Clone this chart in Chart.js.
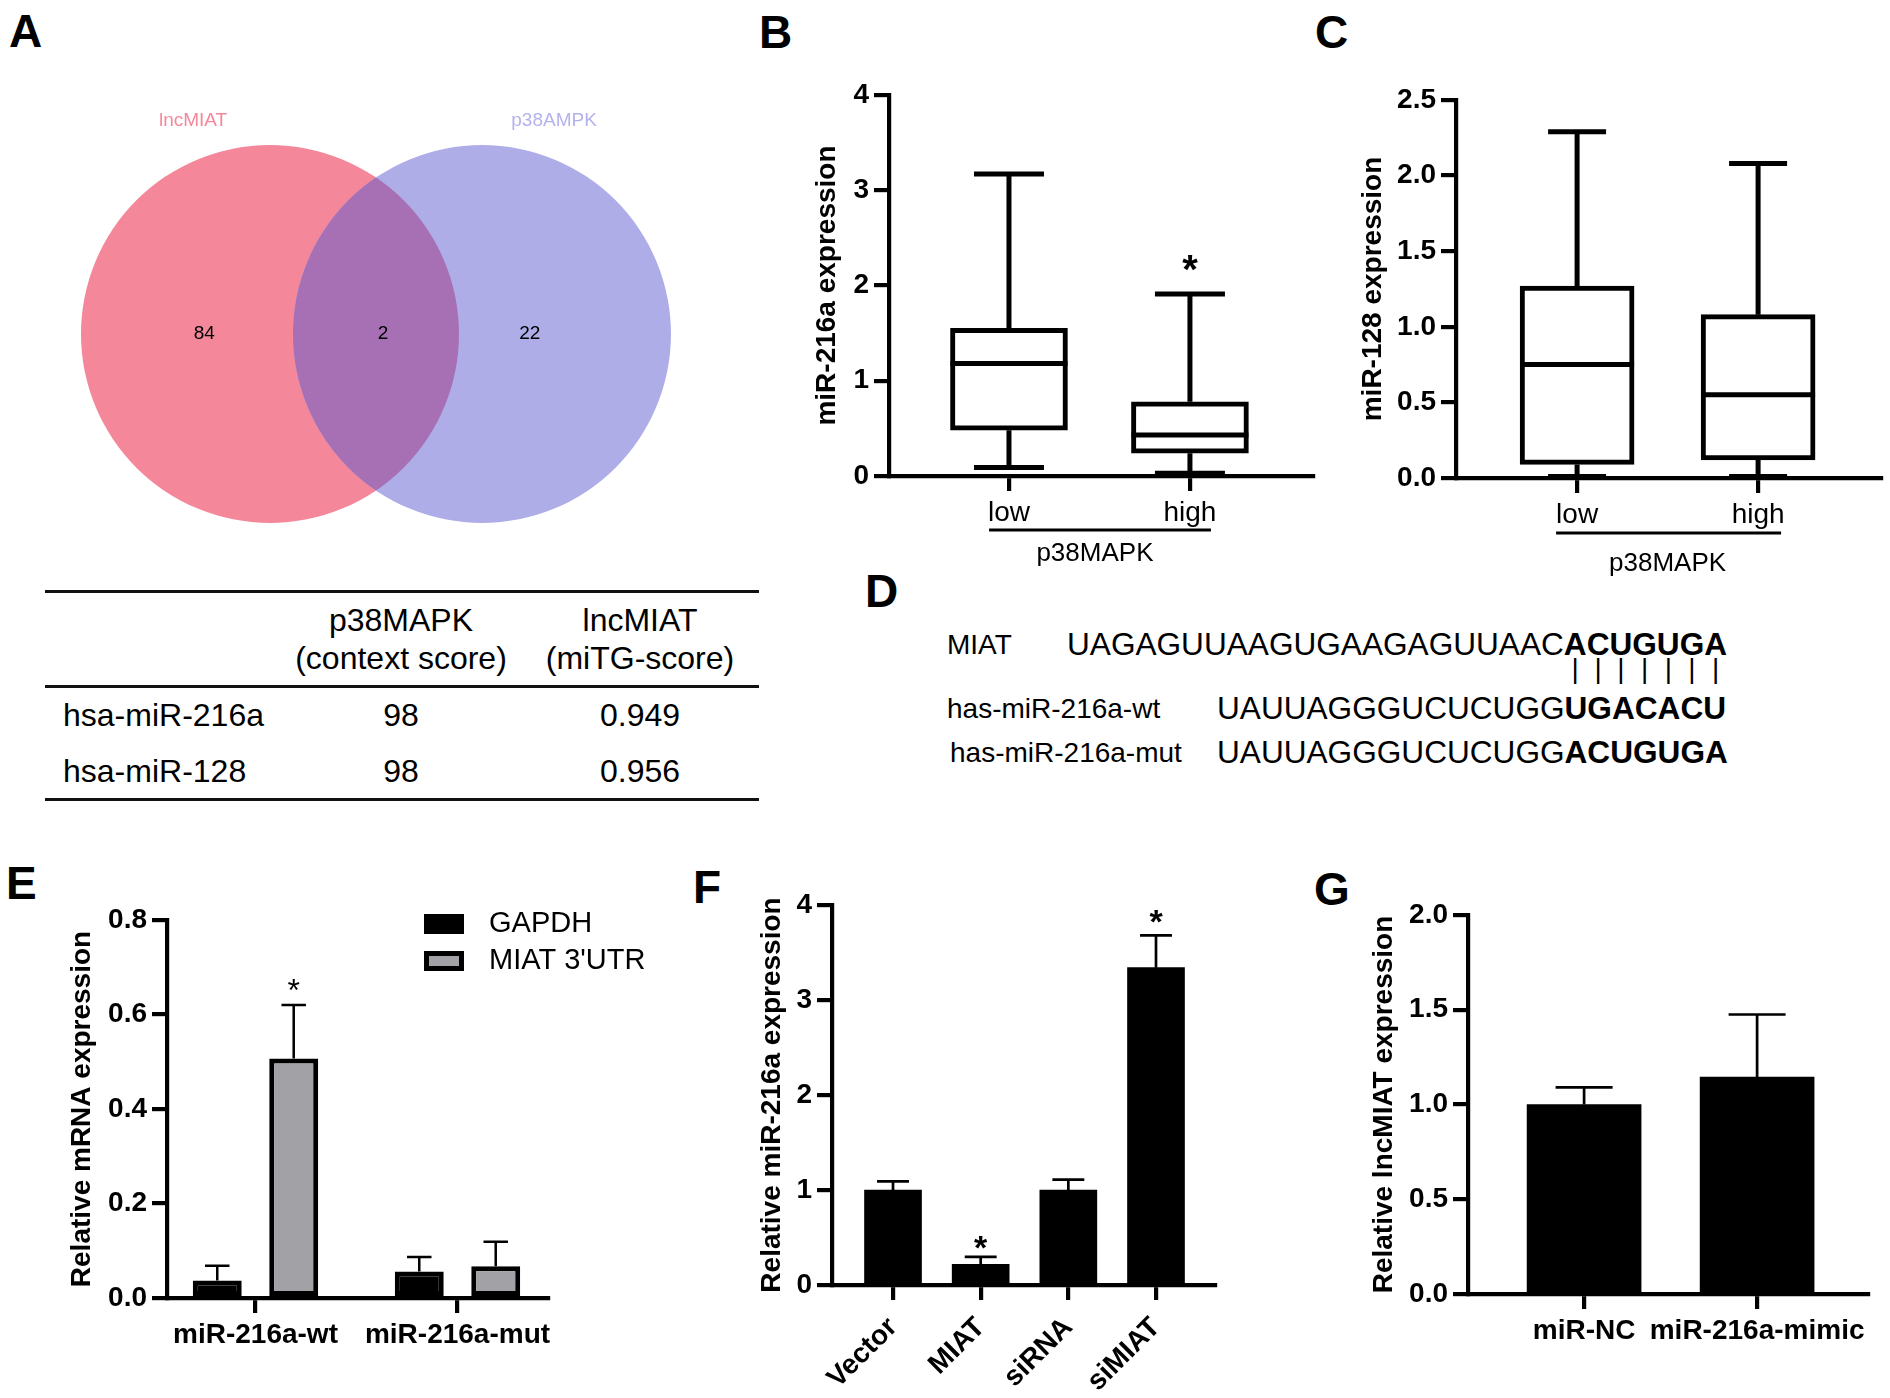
<!DOCTYPE html>
<html>
<head>
<meta charset="utf-8">
<script src="https://cdn.jsdelivr.net/npm/chart.js@4.4.1/dist/chart.umd.min.js"></script>
<style>
  html, body { margin: 0; padding: 0; background: #fff; }
  #page { position: relative; width: 1890px; height: 1398px; overflow: hidden;
          font-family: 'Liberation Sans', Arial, sans-serif; color: #000; }
  .abs { position: absolute; white-space: nowrap; }
  .letter { font-size: 46px; font-weight: bold; line-height: 46px; }
  .rule { position: absolute; height: 3px; background: #111; }
  .pair { position: absolute; left: 50%; top: 1px; transform: translateX(-50%);
          color: #000; font-weight: normal; font-size: 28px; }
  canvas { position: absolute; }
</style>
</head>
<body>
<div id="page">
  <div class="abs letter" style="left:9px;top:8px">A</div>
  <div class="abs letter" style="left:759px;top:9px">B</div>
  <div class="abs letter" style="left:1315px;top:9px">C</div>
  <div class="abs letter" style="left:865px;top:568px">D</div>
  <div class="abs letter" style="left:6px;top:860px">E</div>
  <div class="abs letter" style="left:693px;top:864px">F</div>
  <div class="abs letter" style="left:1314px;top:866px">G</div>
</div>
<script>
// ---------- data ----------
// A: venn + table
const vennSets = ['lncMIAT', 'p38AMPK'];
const vennCounts = [84, 2, 22];            // only lncMIAT, both, only p38AMPK
const tableHead1 = ['p38MAPK', '(context score)'];
const tableHead2 = ['lncMIAT', '(miTG-score)'];
const mirnaNames = ['hsa-miR-216a', 'hsa-miR-128'];
const contextScores = ['98', '98'];
const mitgScores = ['0.949', '0.956'];

// B: miR-216a by p38MAPK level
const levelGroups = ['low', 'high'];
const mir216aMin = [0.09, 0.03];
const mir216aQ1 = [0.48, 0.24];
const mir216aMedian = [1.18, 0.43];
const mir216aQ3 = [1.55, 0.78];
const mir216aMax = [3.17, 1.91];
const mir216aStars = [null, 2.27];

// C: miR-128 by p38MAPK level
const mir128Min = [0.01, 0.01];
const mir128Q1 = [0.09, 0.12];
const mir128Median = [0.75, 0.55];
const mir128Q3 = [1.27, 1.08];
const mir128Max = [2.29, 2.08];

// D: sequences
const seqLabels = ['MIAT', 'has-miR-216a-wt', 'has-miR-216a-mut'];
const seqPlain = ['UAGAGUUAAGUGAAGAGUUAAC', 'UAUUAGGGUCUCUGG', 'UAUUAGGGUCUCUGG'];
const seqSeed = ['ACUGUGA', 'UGACACU', 'ACUGUGA'];

// E: luciferase reporter
const reporterGroups = ['miR-216a-wt', 'miR-216a-mut'];
const gapdhMean = [0.037, 0.056];
const gapdhSd = [0.031, 0.031];
const utrMean = [0.507, 0.067];
const utrSd = [0.113, 0.052];
const utrStars = [0.667, null];

// F: miR-216a after MIAT over/under expression
const transfectGroups = ['Vector', 'MIAT', 'siRNA', 'siMIAT'];
const mir216aRel = [1.0, 0.217, 1.0, 3.34];
const mir216aRelSd = [0.09, 0.08, 0.11, 0.34];
const mir216aRelStars = [null, 0.48, null, 3.91];

// G: lncMIAT after mimic
const mimicGroups = ['miR-NC', 'miR-216a-mimic'];
const miatRel = [1.0, 1.145];
const miatRelSd = [0.09, 0.33];

// ---------- setup ----------
const FONT = "'Liberation Sans', Arial, sans-serif";
Chart.defaults.font.family = FONT;
Chart.defaults.color = '#000';
Chart.defaults.animation = false;
Chart.defaults.plugins.legend.display = false;
Chart.defaults.plugins.tooltip.enabled = false;

const page = document.getElementById('page');

function addCanvas(left, top, w, h) {
    const c = document.createElement('canvas');
    c.width = w; c.height = h;
    c.style.left = left + 'px'; c.style.top = top + 'px';
    c.style.width = w + 'px'; c.style.height = h + 'px';
    page.appendChild(c);
    return c.getContext('2d');
}

function addText(html, left, centerY, size, opts = {}) {
    const d = document.createElement('div');
    d.className = 'abs';
    d.innerHTML = html;
    d.style.left = left + 'px';
    d.style.top = (centerY - size / 2) + 'px';
    d.style.fontSize = size + 'px';
    d.style.lineHeight = size + 'px';
    if (opts.width) { d.style.width = opts.width + 'px'; d.style.textAlign = 'center'; }
    if (opts.weight) d.style.fontWeight = opts.weight;
    if (opts.color) d.style.color = opts.color;
    page.appendChild(d);
    return d;
}

function addRule(left, top, width) {
    const r = document.createElement('div');
    r.className = 'rule';
    r.style.left = left + 'px'; r.style.top = (top - 1.5) + 'px'; r.style.width = width + 'px';
    page.appendChild(r);
}

// ---------- plugins ----------
const vennExtras = {
    id: 'vennExtras',
    afterDatasetsDraw(chart, args, opts) {
        const { ctx, scales: { x, y } } = chart;
        const [a, b] = chart.getDatasetMeta(0).data;
        ctx.save();
        ctx.beginPath(); ctx.arc(a.x, a.y, a.options.radius, 0, Math.PI * 2); ctx.clip();
        ctx.beginPath(); ctx.arc(b.x, b.y, b.options.radius, 0, Math.PI * 2);
        ctx.fillStyle = opts.overlapColor; ctx.fill();
        ctx.restore();

        ctx.save();
        ctx.textAlign = 'center'; ctx.textBaseline = 'middle';
        ctx.font = `19px ${FONT}`;
        vennSets.forEach((s, i) => {
            ctx.fillStyle = opts.nameColors[i];
            ctx.fillText(s, x.getPixelForValue(opts.nameX[i]), y.getPixelForValue(opts.nameY));
        });
        ctx.fillStyle = '#000';
        vennCounts.forEach((n, i) => {
            ctx.fillText(String(n), x.getPixelForValue(opts.countX[i]), y.getPixelForValue(0));
        });
        ctx.restore();
    }
};

const whiskers = {
    id: 'whiskers',
    afterDatasetsDraw(chart, args, opts) {
        const { ctx } = chart;
        const y = chart.scales.y;
        chart.data.datasets.forEach((ds, di) => {
            if (!ds.stats) return;
            chart.getDatasetMeta(di).data.forEach((box, i) => {
                const [q1, q3] = ds.data[i].y;
                const pMin = y.getPixelForValue(ds.stats.min[i]);
                const pMax = y.getPixelForValue(ds.stats.max[i]);
                const pMed = y.getPixelForValue(ds.stats.median[i]);
                const cap = opts.capWidth / 2;
                const half = box.width / 2;
                ctx.save();
                ctx.strokeStyle = '#000';
                ctx.lineWidth = opts.lineWidth;
                ctx.beginPath();
                ctx.moveTo(box.x, y.getPixelForValue(q3)); ctx.lineTo(box.x, pMax);
                ctx.moveTo(box.x - cap, pMax); ctx.lineTo(box.x + cap, pMax);
                ctx.moveTo(box.x, y.getPixelForValue(q1)); ctx.lineTo(box.x, pMin);
                ctx.moveTo(box.x - cap, pMin); ctx.lineTo(box.x + cap, pMin);
                ctx.moveTo(box.x - half, pMed); ctx.lineTo(box.x + half, pMed);
                ctx.stroke();
                ctx.restore();
            });
        });
    }
};

const errorBars = {
    id: 'errorBars',
    afterDatasetsDraw(chart, args, opts) {
        const { ctx } = chart;
        const y = chart.scales.y;
        chart.data.datasets.forEach((ds, di) => {
            if (!ds.sd) return;
            chart.getDatasetMeta(di).data.forEach((bar, i) => {
                const top = y.getPixelForValue(ds.data[i].y + ds.sd[i]);
                const half = bar.width * opts.capRatio / 2;
                ctx.save();
                ctx.strokeStyle = '#000';
                ctx.lineWidth = opts.lineWidth;
                ctx.beginPath();
                ctx.moveTo(bar.x, bar.y); ctx.lineTo(bar.x, top);
                ctx.moveTo(bar.x - half, top); ctx.lineTo(bar.x + half, top);
                ctx.stroke();
                ctx.restore();
            });
        });
    }
};

const stars = {
    id: 'stars',
    afterDatasetsDraw(chart, args, opts) {
        const { ctx } = chart;
        const y = chart.scales.y;
        chart.data.datasets.forEach((ds, di) => {
            if (!ds.stars) return;
            chart.getDatasetMeta(di).data.forEach((bar, i) => {
                const v = ds.stars[i];
                if (v == null) return;
                ctx.save();
                ctx.font = `${opts.weight} ${opts.size}px ${FONT}`;
                ctx.textAlign = 'center';
                ctx.textBaseline = 'alphabetic';
                ctx.fillStyle = '#000';
                ctx.fillText('*', bar.x, y.getPixelForValue(v) + opts.size * 0.57);
                ctx.restore();
            });
        });
    }
};

const groupLabel = {
    id: 'groupLabel',
    afterDraw(chart, args, opts) {
        const { ctx, chartArea } = chart;
        const x = chart.scales.x;
        const x0 = x.getPixelForValue(opts.from), x1 = x.getPixelForValue(opts.to);
        const ly = chartArea.bottom + opts.lineOffset;
        ctx.save();
        ctx.strokeStyle = '#000';
        ctx.lineWidth = 3;
        ctx.beginPath(); ctx.moveTo(x0, ly); ctx.lineTo(x1, ly); ctx.stroke();
        ctx.font = `26px ${FONT}`;
        ctx.textAlign = 'center';
        ctx.textBaseline = 'middle';
        ctx.fillStyle = '#000';
        ctx.fillText(opts.text, x.getPixelForValue(opts.textAt), chartArea.bottom + opts.textOffset);
        ctx.restore();
    }
};

const boxLegend = {
    id: 'boxLegend',
    afterDraw(chart, args, opts) {
        const { ctx, chartArea } = chart;
        chart.data.datasets.forEach((ds, i) => {
            const bx = chartArea.left + opts.x;
            const by = chartArea.top + opts.y + i * opts.rowGap;
            const bw = ds.borderWidth;
            ctx.save();
            ctx.fillStyle = ds.backgroundColor;
            ctx.fillRect(bx, by, opts.boxW, opts.boxH);
            ctx.strokeStyle = ds.borderColor;
            ctx.lineWidth = bw;
            ctx.strokeRect(bx + bw / 2, by + bw / 2, opts.boxW - bw, opts.boxH - bw);
            ctx.fillStyle = '#000';
            ctx.font = `29px ${FONT}`;
            ctx.textBaseline = 'middle';
            ctx.fillText(ds.label, bx + opts.textGap, by + opts.boxH / 2);
            ctx.restore();
        });
    }
};

// ---------- axis helpers ----------
function yAxis(min, max, step, title, titlePad, width, decimals) {
    return {
        min, max,
        ticks: { stepSize: step, color: '#000', padding: 5,
                 font: { size: 28, weight: 'bold' },
                 callback: v => decimals ? v.toFixed(decimals) : String(v) },
        border: { display: true, color: '#000', width: 4.2 },
        grid: { drawOnChartArea: false, drawTicks: true, tickLength: 15, color: '#000', lineWidth: 4.2 },
        title: { display: true, text: title, color: '#000',
                 font: { size: 28, weight: 'bold' }, padding: { top: titlePad, bottom: 0 } },
        afterFit: s => { s.width = width; s.paddingTop = 0; s.paddingBottom = 0; }
    };
}

function xAxis(cats, min, max, height, weight, rotation, pad) {
    return {
        type: 'linear', min, max, offset: false,
        afterBuildTicks: s => { s.ticks = cats.map((c, i) => ({ value: i })); },
        ticks: { autoSkip: false, color: '#000', padding: pad,
                 font: { size: 28, weight }, minRotation: rotation, maxRotation: rotation,
                 callback: v => cats[v] },
        border: { display: true, color: '#000', width: 4.2 },
        grid: { offset: false, drawOnChartArea: false, drawTicks: true, tickLength: 15, color: '#000', lineWidth: 4.2 },
        afterFit: s => { s.height = height; s.paddingLeft = 0; s.paddingRight = 0; }
    };
}

const points = (cats, vals) => cats.map((c, i) => ({ x: i, y: vals[i] }));
const boxes = (q1, q3) => q1.map((v, i) => ({ x: i, y: [v, q3[i]] }));

// ---------- A: venn ----------
new Chart(addCanvas(40, 104, 680, 460), {
    type: 'bubble',
    data: {
        datasets: [{
            data: vennSets.map((s, i) => ({ x: i, y: 0, r: 189 })),
            backgroundColor: ['#f4889a', '#aeade8'],
            borderWidth: 0,
            clip: false
        }]
    },
    options: {
        responsive: false,
        devicePixelRatio: 1,
        layout: { padding: 0, autoPadding: false },
        scales: {
            x: { display: false, min: -1.085, max: 2.123 },
            y: { display: false, min: -1, max: 1 }
        },
        plugins: {
            vennExtras: {
                overlapColor: '#a770b5',
                nameColors: ['#f4889a', '#b3b2ee'],
                nameX: [-0.363, 1.34], nameY: 0.926,
                countX: [-0.31, 0.533, 1.226]
            }
        }
    },
    plugins: [vennExtras]
});

// ---------- A: table ----------
addRule(45, 591, 714);
addRule(45, 686, 714);
addRule(45, 799, 714);
[tableHead1, tableHead2].forEach((head, c) => {
    const cx = [401, 640][c];
    head.forEach((line, r) => addText(line, cx - 130, 620 + r * 38, 32, { width: 260 }));
});
mirnaNames.forEach((name, r) => {
    const cy = 715 + r * 56;
    addText(name, 63, cy, 32);
    addText(contextScores[r], 401 - 80, cy, 32, { width: 160 });
    addText(mitgScores[r], 640 - 80, cy, 32, { width: 160 });
});

// ---------- B ----------
new Chart(addCanvas(760, 55, 561, 521), {
    type: 'bar',
    data: {
        datasets: [{
            data: boxes(mir216aQ1, mir216aQ3),
            stats: { min: mir216aMin, median: mir216aMedian, max: mir216aMax },
            stars: mir216aStars,
            backgroundColor: '#fff', borderColor: '#000', borderWidth: 5,
            borderSkipped: false, barThickness: 117
        }]
    },
    options: {
        responsive: false,
        devicePixelRatio: 1,
        layout: { padding: { top: 40, right: 8, left: 0, bottom: 0 } },
        scales: {
            x: xAxis(levelGroups, -0.663, 1.680, 100, 'normal', 0, 5),
            y: yAxis(0, 4, 1, 'miR-216a expression', 50, 129, 0)
        },
        plugins: {
            whiskers: { capWidth: 70, lineWidth: 5 },
            stars: { size: 40, weight: 'bold' },
            groupLabel: { text: 'p38MAPK', from: -0.11, to: 1.116, textAt: 0.475, lineOffset: 54, textOffset: 78 }
        }
    },
    plugins: [whiskers, stars, groupLabel]
});

// ---------- C ----------
new Chart(addCanvas(1327, 60, 560, 518), {
    type: 'bar',
    data: {
        datasets: [{
            data: boxes(mir128Q1, mir128Q3),
            stats: { min: mir128Min, median: mir128Median, max: mir128Max },
            backgroundColor: '#fff', borderColor: '#000', borderWidth: 5,
            borderSkipped: false, barThickness: 114
        }]
    },
    options: {
        responsive: false,
        devicePixelRatio: 1,
        layout: { padding: { top: 40, right: 6, left: 0, bottom: 0 } },
        scales: {
            x: xAxis(levelGroups, -0.669, 1.679, 100, 'normal', 0, 5),
            y: yAxis(0, 2.5, 0.5, 'miR-128 expression', 29, 129, 1)
        },
        plugins: {
            whiskers: { capWidth: 58, lineWidth: 5 },
            groupLabel: { text: 'p38MAPK', from: -0.116, to: 1.127, textAt: 0.5, lineOffset: 55, textOffset: 86 }
        }
    },
    plugins: [whiskers, groupLabel]
});

// ---------- D ----------
const seqRows = [645, 709, 753];
const seqLeft = [1067, 1217, 1217];
const labelLeft = [947, 947, 950];
seqLabels.forEach((lab, i) => {
    addText(lab, labelLeft[i], seqRows[i], 28);
    addText(seqPlain[i] + '<b>' + seqSeed[i] + '</b>', seqLeft[i], seqRows[i], 31.6);
});
// base-pair ticks under the MIAT seed
addText(
    seqPlain[0] + seqSeed[0].split('').map(ch =>
        `<b style="position:relative">${ch}<span class="pair">|</span></b>`).join(''),
    seqLeft[0], 671, 31.6, { color: 'transparent' });

// ---------- E ----------
new Chart(addCanvas(27, 880, 620, 498), {
    type: 'bar',
    data: {
        datasets: [
            { label: 'GAPDH', data: points(reporterGroups, gapdhMean), sd: gapdhSd,
              backgroundColor: '#000', borderColor: '#000', borderWidth: 5, borderSkipped: false,
              categoryPercentage: 0.757, barPercentage: 0.64 },
            { label: "MIAT 3'UTR", data: points(reporterGroups, utrMean), sd: utrSd, stars: utrStars,
              backgroundColor: '#a2a2a6', borderColor: '#000', borderWidth: 5, borderSkipped: false,
              categoryPercentage: 0.757, barPercentage: 0.64 }
        ]
    },
    options: {
        responsive: false,
        devicePixelRatio: 1,
        layout: { padding: { top: 40, right: 99, left: 0, bottom: 0 } },
        scales: {
            x: xAxis(reporterGroups, -0.438, 1.448, 80, 'bold', 0, 5),
            y: yAxis(0, 0.8, 0.2, 'Relative mRNA expression', 38, 140, 1)
        },
        plugins: {
            errorBars: { capRatio: 0.5, lineWidth: 2.5 },
            stars: { size: 32, weight: 'normal' },
            boxLegend: { x: 257, y: -6, rowGap: 37, boxW: 40, boxH: 20, textGap: 65 }
        }
    },
    plugins: [errorBars, stars, boxLegend]
});

// ---------- F ----------
new Chart(addCanvas(692, 865, 533, 540), {
    type: 'bar',
    data: {
        datasets: [{
            data: points(transfectGroups, mir216aRel), sd: mir216aRelSd, stars: mir216aRelStars,
            backgroundColor: '#000', borderWidth: 0, barThickness: 57
        }]
    },
    options: {
        responsive: false,
        devicePixelRatio: 1,
        layout: { padding: { top: 40, right: 10, left: 0, bottom: 0 } },
        scales: {
            x: xAxis(transfectGroups, -0.696, 3.673, 120, 'bold', 45, 11),
            y: yAxis(0, 4, 1, 'Relative miR-216a expression', 63, 140, 0)
        },
        plugins: {
            errorBars: { capRatio: 0.56, lineWidth: 2.7 },
            stars: { size: 34, weight: 'bold' }
        }
    },
    plugins: [errorBars, stars]
});

// ---------- G ----------
new Chart(addCanvas(1328, 875, 550, 499), {
    type: 'bar',
    data: {
        datasets: [{
            data: points(mimicGroups, miatRel), sd: miatRelSd,
            backgroundColor: '#000', borderWidth: 0, barThickness: 114
        }]
    },
    options: {
        responsive: false,
        devicePixelRatio: 1,
        layout: { padding: { top: 40, right: 10, left: 0, bottom: 0 } },
        scales: {
            x: xAxis(mimicGroups, -0.671, 1.641, 80, 'bold', 0, 5),
            y: yAxis(0, 2, 0.5, 'Relative lncMIAT expression', 39, 140, 1)
        },
        plugins: {
            errorBars: { capRatio: 0.5, lineWidth: 2.7 }
        }
    },
    plugins: [errorBars]
});
</script>
</body>
</html>
